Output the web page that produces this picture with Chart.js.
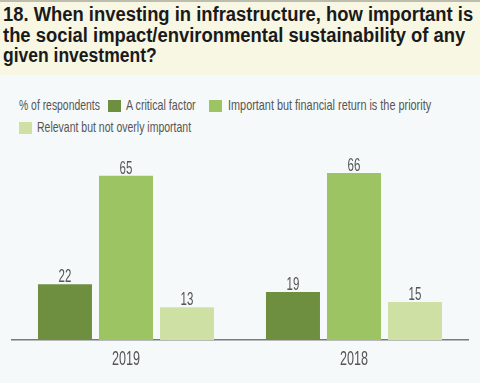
<!DOCTYPE html>
<html>
<head>
<meta charset="utf-8">
<script src="https://cdn.jsdelivr.net/npm/chart.js@4/dist/chart.umd.min.js"></script>
<style>
  html, body { margin:0; padding:0; }
  body { width:480px; height:383px; position:relative; overflow:hidden; background:#f6f9fa; font-family:"Liberation Sans",Arial,sans-serif; }
  #band { position:absolute; left:0; top:0; width:480px; height:75px; background:#f7f7e4; border-top:2px solid #bdbdae; box-sizing:border-box; }
  .t { position:absolute; left:3px; font-weight:bold; font-size:20px; line-height:20px; color:#1a1a1a; white-space:nowrap; transform-origin:0 0; display:inline-block; }
  .lt { position:absolute; font-size:15px; line-height:16px; color:#555; white-space:nowrap; transform-origin:0 0; display:inline-block; }
  .box { position:absolute; width:13px; height:12px; }
  #wrap { position:absolute; left:0; top:140px; width:480px; height:243px; }
</style>
</head>
<body>
<div id="band"></div>
<div id="overlay"></div>
<div id="wrap"><canvas id="c" width="480" height="243"></canvas></div>
<script>
const titleLines = ["18. When investing in infrastructure, how important is", "the social impact/environmental sustainability of any", "given investment?"];
const categories = ["2019", "2018"];
const seriesNames = ["A critical factor", "Important but financial return is the priority", "Relevant but not overly important"];
const criticalFactor = [22, 19];
const importantButReturn = [65, 66];
const relevantNotImportant = [13, 15];
const seriesColors = ["#6e8e40", "#9cc463", "#cfe0a4"];
const legendPrefix = "% of respondents";

const ov = document.getElementById('overlay');
function addText(cls, text, x, y, w){
  const s = document.createElement('span');
  s.className = cls; s.textContent = text;
  s.style.left = x + 'px'; s.style.top = y + 'px';
  ov.appendChild(s);
  const nat = s.offsetWidth;
  s.style.transform = 'scaleX(' + (w / nat) + ')';
  return s;
}
// title lines: [top, width]
const titleGeom = [[4, 470], [25, 462], [45, 154]];
titleLines.forEach((l, i) => addText('t', l, 3, titleGeom[i][0], titleGeom[i][1]));

// legend
addText('lt', legendPrefix, 19, 97, 81);
const legendGeom = [[108, 100, 126, 70], [209, 100, 228, 203], [19, 122, 37, 154]]; // boxX, boxY, textX, textW
seriesNames.forEach((n, i) => {
  const g = legendGeom[i];
  const b = document.createElement('div'); b.className = 'box';
  b.style.left = g[0] + 'px'; b.style.top = g[1] + 'px'; b.style.background = seriesColors[i];
  ov.appendChild(b);
  addText('lt', n, g[2], g[1] - 3, g[3]);
});

function drawNarrow(ctx, text, x, y, scale){
  ctx.save();
  ctx.translate(x, y);
  ctx.scale(scale, 1);
  ctx.fillText(text, 0, 0);
  ctx.restore();
}

const valueLabels = {
  id:'valueLabels',
  afterDatasetsDraw(chart){
    const ctx = chart.ctx;
    ctx.save();
    ctx.fillStyle = '#555';
    ctx.textAlign = 'center';
    ctx.textBaseline = 'alphabetic';
    ctx.font = '18px "Liberation Sans", Arial, sans-serif';
    chart.data.datasets.forEach((ds, di)=>{
      chart.getDatasetMeta(di).data.forEach((bar, i)=>{
        drawNarrow(ctx, String(ds.data[i]), bar.x, bar.y - 2, 0.64);
      });
    });
    // category labels
    const xs = chart.scales.x;
    ctx.font = '21px "Liberation Sans", Arial, sans-serif';
    categories.forEach((c, i) => {
      drawNarrow(ctx, c, xs.getPixelForValue(i), xs.top + 25, 0.6);
    });
    ctx.restore();
  }
};

new Chart(document.getElementById('c'), {
  type:'bar',
  data:{
    labels: categories,
    datasets:[
      {label:seriesNames[0], data:criticalFactor, backgroundColor:seriesColors[0]},
      {label:seriesNames[1], data:importantButReturn, backgroundColor:seriesColors[1]},
      {label:seriesNames[2], data:relevantNotImportant, backgroundColor:seriesColors[2]}
    ]
  },
  options:{
    responsive:false,
    animation:false,
    devicePixelRatio:1,
    layout:{padding:{left:12, right:12, top:23, bottom:0}},
    datasets:{bar:{categoryPercentage:0.803, barPercentage:0.885}},
    plugins:{legend:{display:false}, tooltip:{enabled:false}},
    scales:{
      x:{
        grid:{display:false},
        border:{display:true, color:'#7a7a7a', width:1.5},
        ticks:{display:false},
        afterFit(scale){ scale.height = 43; }
      },
      y:{display:false, min:0, max:70}
    }
  },
  plugins:[valueLabels]
});
</script>
</body>
</html>
